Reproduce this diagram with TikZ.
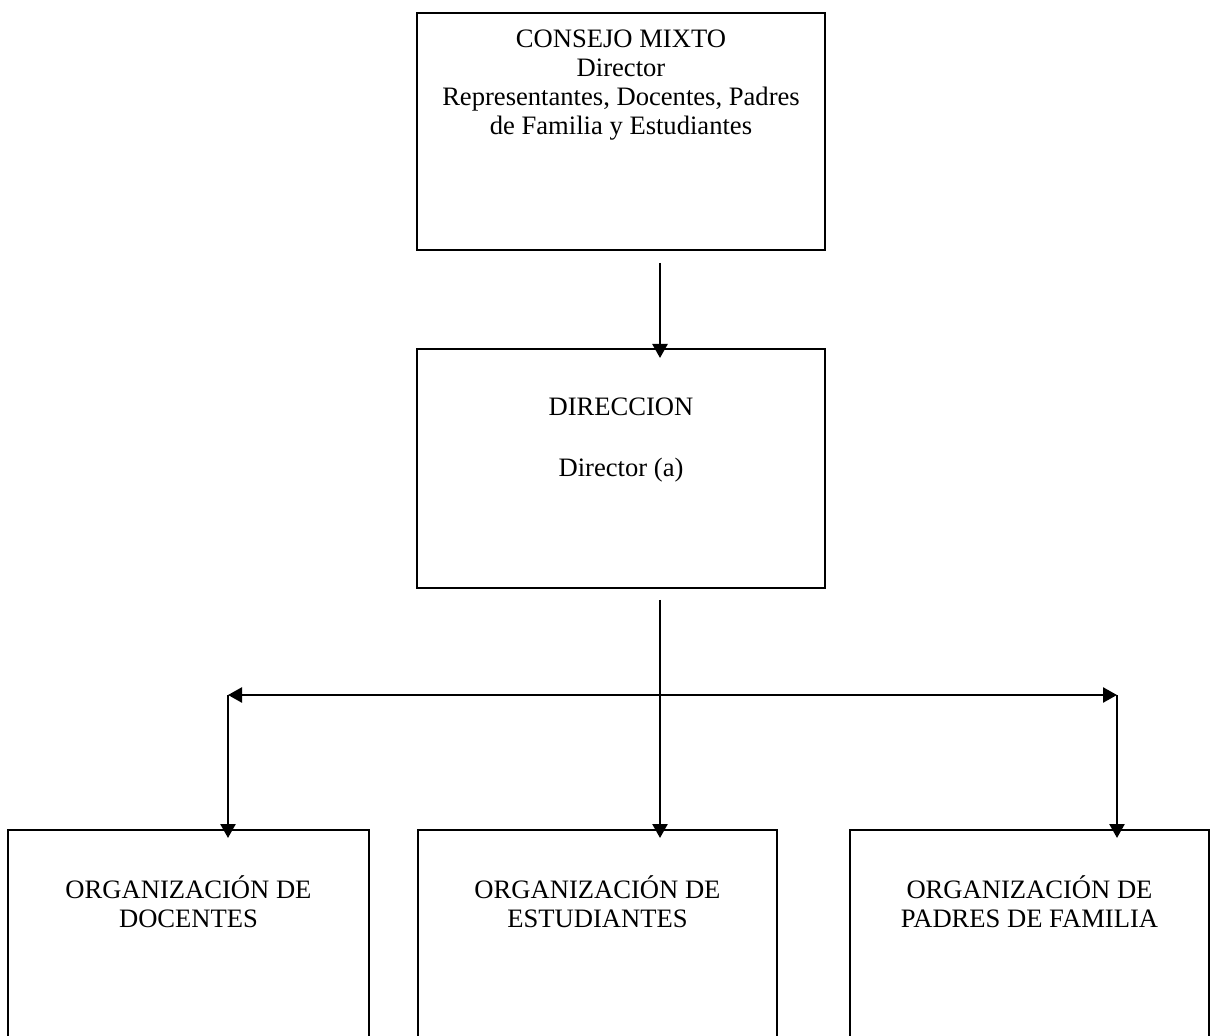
\documentclass[tikz,border=0pt]{standalone}
\usepackage{fontspec}
\setmainfont{Liberation Serif}
\usetikzlibrary{arrows.meta}
\begin{document}
\begin{tikzpicture}[x=0.5pt,y=-0.5pt,
  box/.style={draw=black,line width=1pt,rectangle,inner sep=0pt},
  txt/.style={align=center,font=\fontsize{13.3}{14.5}\selectfont,inner sep=0pt,anchor=base},
  arr/.style={line width=1.25pt,-{Triangle[length=7pt,width=7.5pt]}},
  barr/.style={line width=1.25pt,{Triangle[length=7pt,width=7.5pt]}-{Triangle[length=7pt,width=7.5pt]}}]
\clip (0,0) rectangle (1214,1036);
\fill[white] (0,0) rectangle (1214,1036);
% boxes
\node[box,minimum width=204pt,minimum height=118.5pt] (consejo) at (621,131.5) {};
\node[box,minimum width=204pt,minimum height=119.5pt] (direccion) at (621,468.5) {};
\node[box,minimum width=180.5pt,minimum height=200pt] (doc) at (188.5,1030) {};
\node[box,minimum width=179.5pt,minimum height=200pt] (est) at (597.5,1030) {};
\node[box,minimum width=179.5pt,minimum height=200pt] (pad) at (1029.5,1030) {};
% texts (anchor base = baseline of the last line)
\node[txt] (tconsejo) at (621,135) {CONSEJO MIXTO\\Director\\Representantes, Docentes, Padres\\de Familia y Estudiantes};
\node[txt] (tdir) at (621,477) {DIRECCION\\[16pt]Director (a)};
\node[txt] (tdoc) at (188.5,927) {ORGANIZACIÓN DE\\DOCENTES};
\node[txt] (test) at (597.5,927) {ORGANIZACIÓN DE\\ESTUDIANTES};
\node[txt] (tpad) at (1029.5,927) {ORGANIZACIÓN DE\\PADRES DE FAMILIA};
% connector points
\coordinate (c1s) at (660,263);
\coordinate (c1e) at (660,358);
\coordinate (c2s) at (660,600);
\coordinate (c2e) at (660,838);
\coordinate (hl) at (228,695);
\coordinate (hr) at (1117,695);
\coordinate (hle) at (228,838);
\coordinate (hre) at (1117,838);
% connectors
\draw[arr] (c1s) -- (c1e);
\draw[arr] (c2s) -- (c2e);
\draw[barr] (hl) -- (hr);
\draw[arr] (hl) -- (hle);
\draw[arr] (hr) -- (hre);
\end{tikzpicture}
\end{document}
